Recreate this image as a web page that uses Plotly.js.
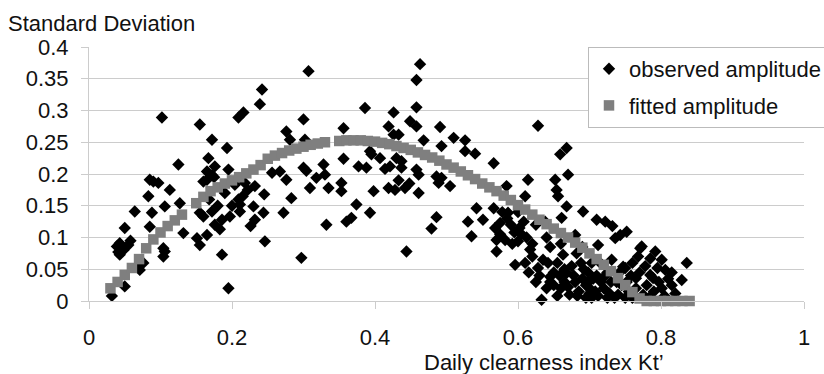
<!DOCTYPE html>
<html>
<head>
<meta charset="utf-8">
<script src="https://cdn.plot.ly/plotly-3.0.1.min.js"></script>
<style>html,body{margin:0;padding:0;background:#fff;}#chart{width:824px;height:374px;}</style>
</head>
<body>
<div id="chart"></div>
<script>
// Observed amplitude (Kt', standard deviation)
const obsX = [
 0.032,0.050,0.039,0.041,0.043,0.043,0.048,0.055,0.050,0.058,0.064,0.070,0.071,0.076,0.085,0.083,0.085,0.090,0.097,0.088,
 0.102,0.104,0.104,0.106,0.106,0.113,0.125,0.127,0.132,0.151,0.155,0.155,0.155,0.160,0.160,0.165,
 0.172,0.193,0.209,0.216,0.239,0.242,0.276,0.281,0.167,0.176,0.165,0.172,0.195,0.165,0.175,0.204,0.218,0.232,0.245,0.256,
 0.267,0.276,0.283,0.209,0.211,0.211,0.230,0.232,0.244,0.226,0.272,0.172,0.176,0.186,0.197,0.183,0.246,0.186,0.195,0.297,0.300,
 0.307,0.386,0.426,0.300,0.356,0.419,0.426,0.302,0.356,0.328,0.304,0.377,0.388,0.395,0.407,0.393,0.414,0.421,0.430,0.318,
 0.330,0.335,0.309,0.353,0.353,0.398,0.419,0.428,0.374,0.393,0.367,0.360,0.332,
 0.463,0.458,0.458,0.449,0.458,0.491,0.433,0.468,0.510,0.526,0.493,0.526,0.540,0.566,0.437,0.437,0.458,0.461,0.493,0.489,
 0.505,0.442,0.461,0.486,0.479,0.444,0.542,0.566,0.530,0.551,0.535,0.568,0.570,0.570,0.486,0.448,0.433,
 0.628,0.668,0.659,0.670,0.614,0.652,0.654,0.656,0.584,0.610,0.668,0.691,0.661,0.680,0.586,0.575,0.590,0.582,0.600,0.617,
 0.605,0.596,0.628,0.642,0.645,0.633,0.663,0.668,0.680,0.690,0.700,0.703,0.703,0.710,0.578,0.595,0.612,0.620,0.620,0.635,
 0.645,0.655,0.650,0.660,0.640,0.645,0.660,0.672,0.685,0.695,0.675,0.688,0.698,0.665,0.655,0.690,0.682,0.625,0.638,0.600,
 0.722,0.732,0.743,0.752,0.712,0.736,0.773,0.768,0.785,0.801,0.806,0.836,0.731,0.750,0.747,0.765,0.785,0.801,0.815,0.829,
 0.789,0.710,0.720,0.740,0.730,0.715,0.725,0.745,0.755,0.760,0.775,0.790,0.805,0.820,0.712,0.735,0.760,0.795,0.815,0.780,
 0.771,0.792,0.695,0.705,0.725,0.750,0.765,0.700,
 0.610,0.615,0.625,0.630,0.640,0.650,0.658,0.665,0.670,0.678,0.683,0.692,0.698,0.708,0.716,0.722,0.728,0.738,0.742,0.752,
 0.758,0.770,0.778,0.783,0.797,0.810,0.575,0.585,0.592,0.602,0.608,0.168,0.180,0.190,0.200,0.215,0.222
];
const obsY = [
 0.008,0.023,0.086,0.077,0.091,0.073,0.080,0.088,0.115,0.095,0.141,0.056,0.049,0.060,0.117,0.165,0.191,0.188,0.186,0.139,
 0.289,0.083,0.070,0.078,0.149,0.175,0.215,0.154,0.107,0.099,0.088,0.139,0.278,0.188,0.133,0.104,
 0.254,0.241,0.289,0.297,0.310,0.333,0.267,0.254,0.225,0.212,0.204,0.198,0.207,0.191,0.195,0.183,0.186,0.181,0.168,0.202,
 0.204,0.191,0.162,0.160,0.141,0.152,0.149,0.128,0.139,0.118,0.139,0.141,0.120,0.128,0.133,0.113,0.094,0.073,0.020,0.068,0.210,
 0.362,0.304,0.297,0.286,0.272,0.275,0.262,0.254,0.224,0.215,0.205,0.212,0.210,0.231,0.225,0.236,0.208,0.212,0.225,0.194,
 0.199,0.178,0.178,0.186,0.173,0.173,0.178,0.175,0.152,0.139,0.131,0.125,0.120,
 0.373,0.348,0.305,0.283,0.275,0.274,0.262,0.253,0.257,0.253,0.244,0.236,0.232,0.217,0.220,0.210,0.207,0.199,0.194,0.186,
 0.181,0.178,0.170,0.132,0.114,0.078,0.146,0.146,0.125,0.128,0.102,0.115,0.096,0.078,0.196,0.185,0.190,
 0.276,0.241,0.231,0.199,0.191,0.191,0.175,0.165,0.181,0.165,0.149,0.141,0.131,0.104,0.139,0.123,0.120,0.096,0.094,0.081,
 0.105,0.057,0.052,0.060,0.030,0.002,0.073,0.044,0.030,0.035,0.020,0.005,0.060,0.128,0.140,0.108,0.100,0.090,0.070,0.065,
 0.085,0.060,0.045,0.090,0.100,0.038,0.020,0.010,0.015,0.005,0.055,0.060,0.045,0.030,0.008,0.085,0.075,0.120,0.125,0.140,
 0.125,0.118,0.104,0.109,0.088,0.099,0.086,0.070,0.067,0.065,0.049,0.060,0.065,0.052,0.054,0.036,0.041,0.020,0.025,0.033,
 0.036,0.040,0.020,0.010,0.030,0.060,0.045,0.025,0.015,0.005,0.010,0.015,0.008,0.012,0.008,0.005,0.060,0.052,0.045,0.025,
 0.083,0.078,0.025,0.035,0.005,0.005,0.020,0.012,
 0.060,0.045,0.030,0.040,0.020,0.025,0.040,0.050,0.022,0.040,0.008,0.050,0.030,0.015,0.030,0.040,0.012,0.030,0.045,0.030,
 0.040,0.045,0.055,0.005,0.030,0.035,0.105,0.130,0.090,0.115,0.125,0.160,0.150,0.170,0.150,0.165,0.175
];
// Fitted amplitude
const fitX = [
 0.03,0.04,0.05,0.06,0.07,0.08,0.09,0.10,0.11,0.12,0.13,
 0.15,0.16,0.17,0.18,0.19,0.20,0.21,0.22,0.23,0.24,0.25,0.26,0.27,0.28,0.29,0.30,0.31,0.32,0.33,
 0.35,0.36,0.37,0.38,0.39,0.40,0.41,0.42,0.43,0.44,0.45,0.46,0.47,0.48,0.49,0.50,0.51,0.52,0.53,0.54,
 0.55,0.56,0.57,0.58,0.59,0.60,0.61,0.62,0.63,0.64,0.65,0.66,0.67,0.68,0.69,0.70,0.71,0.72,0.73,0.74,
 0.75,0.76,0.77,0.78,0.79,0.80,0.81,0.82,0.83,0.84
];
const fitY = [
 0.020,0.030,0.041,0.052,0.066,0.083,0.097,0.108,0.118,0.127,0.136,
 0.154,0.164,0.173,0.179,0.185,0.190,0.195,0.201,0.207,0.214,0.224,0.229,0.233,0.237,0.240,0.243,0.246,0.248,0.250,
 0.252,0.253,0.253,0.253,0.252,0.251,0.249,0.247,0.244,0.241,0.238,0.234,0.230,0.226,0.221,0.215,0.210,0.204,0.198,0.192,
 0.185,0.179,0.173,0.166,0.159,0.151,0.144,0.136,0.128,0.121,0.114,0.107,0.100,0.092,0.084,0.075,0.066,0.057,0.047,0.036,
 0.025,0.014,0.004,0,0,0,0,0,0,0
];
const xTicks = [0, 0.2, 0.4, 0.6, 0.8, 1];
const xTickText = ['0', '0.2', '0.4', '0.6', '0.8', '1'];
const yTicks = [0, 0.05, 0.1, 0.15, 0.2, 0.25, 0.3, 0.35, 0.4];
const yTickText = ['0', '0.05', '0.1', '0.15', '0.2', '0.25', '0.3', '0.35', '0.4'];

const FONT = 'Liberation Sans, Arial, Helvetica, sans-serif';
const grid = '#cccccc';

const traces = [
  {x: obsX, y: obsY, type: 'scatter', mode: 'markers', name: 'observed amplitude',
   marker: {symbol: 'diamond', size: 9.5, color: '#000000'}, cliponaxis: false, legendgroup: 'a'},
  {x: fitX, y: fitY, type: 'scatter', mode: 'markers', name: 'fitted amplitude',
   marker: {symbol: 'square', size: 10.5, color: '#7f7f7f'}, cliponaxis: false, legendgroup: 'b'}
];

const layout = {
  width: 824, height: 374,
  margin: {l: 89, r: 20, t: 47, b: 73, autoexpand: false},
  paper_bgcolor: '#ffffff', plot_bgcolor: '#ffffff',
  font: {family: FONT, size: 22, color: '#111111'},
  title: {text: 'Standard Deviation', x: 8/824, xanchor: 'left', xref: 'container',
          y: 1 - 23/374, yanchor: 'middle', yref: 'container', font: {family: FONT, size: 22, color: '#111111'}},
  xaxis: {range: [0, 1], tickmode: 'array', tickvals: xTicks, ticktext: xTickText,
          showgrid: false, zeroline: false, showline: true, linecolor: grid, linewidth: 1,
          ticks: 'outside', ticklen: 7, tickcolor: grid, tickwidth: 1, ticklabelstandoff: 10,
          tickfont: {family: FONT, size: 22, color: '#111111'}, fixedrange: true},
  yaxis: {range: [0, 0.4], tickmode: 'array', tickvals: yTicks, ticktext: yTickText,
          showgrid: true, gridcolor: grid, gridwidth: 1, zeroline: false, showline: true, linecolor: grid,
          ticks: 'outside', ticklen: 7, tickcolor: grid, tickwidth: 1, ticklabelstandoff: 8,
          tickfont: {family: FONT, size: 22, color: '#111111'}, fixedrange: true},
  showlegend: true,
  legend: {x: (588 - 89) / 715, y: 1, xanchor: 'left', yanchor: 'top', bgcolor: '#ffffff',
           bordercolor: '#bbbbbb', borderwidth: 1, font: {family: FONT, size: 22, color: '#111111'},
           traceorder: 'grouped', tracegroupgap: 5},
  annotations: [
    {text: 'Daily clearness index Kt’', xref: 'paper', yref: 'paper',
     x: (544 - 89) / 715, y: (301 - 362) / 254, xanchor: 'center', yanchor: 'middle',
     showarrow: false, font: {family: FONT, size: 22, color: '#111111'}}
  ]
};

Plotly.newPlot('chart', traces, layout, {staticPlot: true, displayModeBar: false});
</script>
</body>
</html>
